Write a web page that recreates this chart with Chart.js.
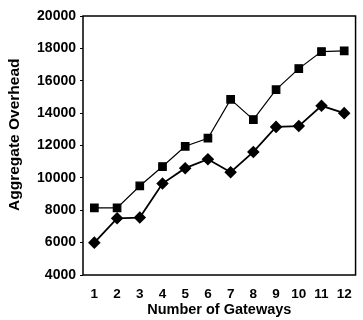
<!DOCTYPE html>
<html>
<head>
<meta charset="utf-8">
<script src="https://cdn.jsdelivr.net/npm/chart.js@4/dist/chart.umd.min.js"></script>
<style>
	body { margin: 0; background: #fff; }
	#wrap { width: 363px; height: 320px; }
</style>
</head>
<body>
<div id="wrap"><canvas id="lineChart" width="363" height="320"></canvas></div>
<script>
	// chart data -start
	var gateways = ['1', '2', '3', '4', '5', '6', '7', '8', '9', '10', '11', '12'];
	var squareSeries = [8150, 8150, 9500, 10700, 11950, 12450, 14850, 13600, 15450, 16750, 17800, 17850];
	var diamondSeries = [6000, 7500, 7550, 9650, 10600, 11150, 10350, 11600, 13150, 13200, 14450, 14000];
	var yTicks = [4000, 6000, 8000, 10000, 12000, 14000, 16000, 18000, 20000];
	// chart data -end

	var fontFamily = '"Liberation Sans", Arial, sans-serif';

	//frame around the plot -start
	var framePlugin = {
		id: 'frame',
		afterDraw: function(chart) {
			var a = chart.chartArea;
			var ctx = chart.ctx;
			ctx.save();
			ctx.strokeStyle = '#000';
			ctx.lineWidth = 1.5;
			ctx.strokeRect(a.left, a.top, a.right - a.left, a.bottom - a.top);
			ctx.restore();
		}
	};
	//frame around the plot -end

	var ctx = document.getElementById('lineChart').getContext('2d');
	var lineChart = new Chart(ctx, {
		type: 'line',
		data: {
			labels: gateways,
			datasets: [{
				data: squareSeries,
				borderColor: '#000',
				backgroundColor: '#000',
				borderWidth: 1.2,
				pointStyle: 'rect',
				pointRadius: 5.3,
				pointHoverRadius: 5.3,
				tension: 0,
				fill: false
			}, {
				data: diamondSeries,
				borderColor: '#000',
				backgroundColor: '#000',
				borderWidth: 1.8,
				pointStyle: 'rectRot',
				pointRadius: 5,
				pointHoverRadius: 5,
				tension: 0,
				fill: false
			}]
		},
		options: {
			responsive: false,
			animation: false,
			layout: { padding: { top: 16, right: 1, left: 0, bottom: 0 } },
			plugins: {
				legend: { display: false },
				tooltip: { enabled: false }
			},
			scales: {
				x: {
					offset: true,
					grid: { display: false, drawTicks: false },
					border: { display: false },
					ticks: {
						color: '#000',
						padding: 11,
						maxRotation: 0,
						font: { family: fontFamily, size: 13.5, weight: 'bold' }
					},
					title: {
						display: true,
						text: 'Number of Gateways',
						color: '#000',
						padding: { top: 0, bottom: 1 },
						font: { family: fontFamily, size: 14.5, weight: 'bold' }
					},
					afterFit: function(scale) { scale.height = 45; }
				},
				y: {
					min: 4000,
					max: 20000,
					afterBuildTicks: function(scale) {
						scale.ticks = yTicks.map(function(v) { return { value: v }; });
					},
					grid: { display: true, drawOnChartArea: false, tickLength: 3, color: '#000' },
					border: { display: false },
					ticks: {
						color: '#000',
						padding: 4,
						font: { family: fontFamily, size: 14, weight: 'bold' },
						callback: function(value) { return String(value); }
					},
					title: {
						display: true,
						// leading spaces nudge the label up a bit like the original
						text: '     Aggregate Overhead',
						color: '#000',
						padding: { top: 5, bottom: 0 },
						font: { family: fontFamily, size: 15.5, weight: 'bold' }
					},
					afterFit: function(scale) { scale.width = 83; }
				}
			}
		},
		plugins: [framePlugin]
	});
</script>
</body>
</html>
